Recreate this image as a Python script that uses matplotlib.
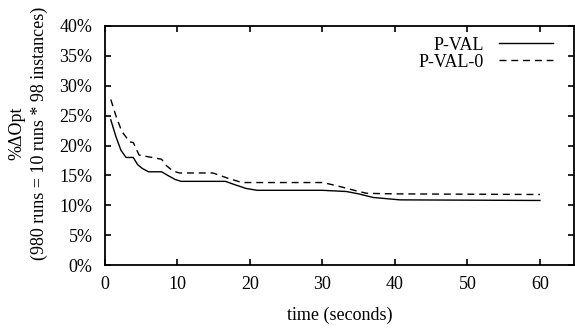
import matplotlib
matplotlib.use("Agg")
import matplotlib.pyplot as plt

# P-VAL (solid)
pval_t = [0.8, 1.5, 2.2, 2.9, 3.9, 4.5, 5.1, 6.0, 7.8, 8.8, 9.7, 10.5, 16.6,
          18.0, 19.5, 21.0, 30.0, 33.3, 35.0, 37.0, 40.7, 60.0]
pval_y = [24.3, 21.5, 19.2, 18.0, 18.0, 16.8, 16.2, 15.6, 15.6, 14.9, 14.3, 14.0, 14.0,
          13.4, 12.8, 12.5, 12.5, 12.3, 11.9, 11.3, 10.9, 10.8]

# P-VAL-0 (dashed)
pval0_t = [0.8, 1.5, 2.3, 3.4, 3.9, 4.7, 7.8, 8.5, 9.4, 10.3, 14.9, 17.0, 18.9,
           30.1, 32.5, 34.7, 36.1, 40.0, 60.0]
pval0_y = [27.7, 25.0, 22.4, 20.6, 20.5, 18.4, 17.7, 16.6, 15.7, 15.4, 15.4, 14.5, 13.8,
           13.8, 13.1, 12.4, 12.0, 11.9, 11.8]

xticks = [0, 10, 20, 30, 40, 50, 60]
yticks = [0, 5, 10, 15, 20, 25, 30, 35, 40]

plt.rcParams['font.family'] = ['Liberation Serif', 'DejaVu Serif']
plt.rcParams['font.size'] = 13

fig = plt.figure(figsize=(5.75, 3.33), dpi=100)
ax = fig.add_axes([105 / 575, 1 - 265 / 333, 469 / 575, 239 / 333])

ax.plot(pval_t, pval_y, color='black', lw=1.0, label='P-VAL')
ax.plot(pval0_t, pval0_y, color='black', lw=1.0, dashes=(5, 3.5), label='P-VAL-0')

ax.set_xlim(0, 64.7)
ax.set_ylim(0, 40)
ax.set_xticks(xticks)
ax.set_yticks(yticks)
ax.set_yticklabels([f"{v}%" for v in yticks])
ax.tick_params(direction='in', length=4.5, width=1.2, top=True, right=True)
ax.tick_params(axis='y', pad=9)
ax.tick_params(axis='x', pad=8)
for s in ax.spines.values():
    s.set_linewidth(1.3)

ax.set_xlabel('time (seconds)', labelpad=10)
ax.set_ylabel('%ΔOpt\n(980 runs = 10 runs * 98 instances)', linespacing=1.35)
ax.yaxis.set_label_coords(-0.122, 0.552)

ax.legend(loc='upper right', bbox_to_anchor=(0.97, 0.985), frameon=False, markerfirst=False,
          handlelength=3.0, handletextpad=0.8, labelspacing=0.0, borderaxespad=0)

fig.savefig('out.png', dpi=100)
